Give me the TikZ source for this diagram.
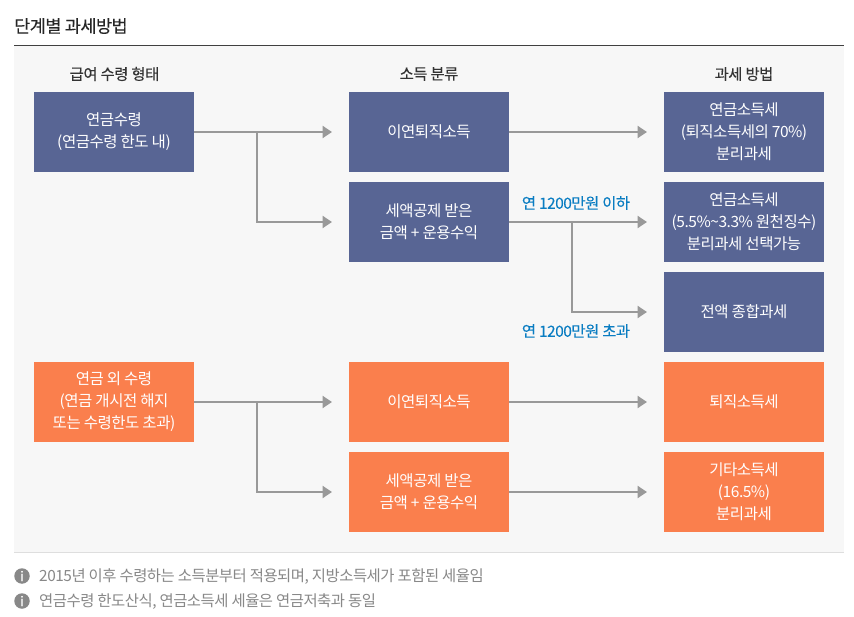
\documentclass[tikz,border=0pt]{standalone}
\usepackage{fontspec}
\usetikzlibrary{arrows.meta}
\setmainfont[LetterSpace=-3]{Noto Sans CJK KR}
\newfontfamily\krmed[LetterSpace=-3,FakeBold=0.15]{Noto Sans CJK KR}
\newfontfamily\krbold[FakeBold=1.2]{Noto Sans CJK KR}
\definecolor{bluebox}{HTML}{586594}
\definecolor{orangebox}{HTML}{FA7F4D}
\definecolor{arrowgray}{HTML}{999999}
\definecolor{labelblue}{HTML}{0A7DC2}
\definecolor{notegray}{HTML}{888888}
\tikzset{
  tbox/.style={minimum width=160pt,minimum height=80pt,inner sep=0pt,text=white,align=center,
    font=\fontsize{15.5}{22}\selectfont},
  bluebx/.style={tbox,fill=bluebox},
  orangebx/.style={tbox,fill=orangebox},
  conn/.style={draw=arrowgray,line width=2.4pt,-{Triangle[length=9.5pt,width=12pt]}},
  heading/.style={text=black!80,inner sep=0pt,font=\krmed\fontsize{15.4}{18}\selectfont},
  blabel/.style={text=labelblue,inner sep=0pt,font=\krmed\fontsize{15.4}{18}\selectfont},
  note/.style={text=notegray,anchor=west,inner sep=0pt,font=\fontsize{15.4}{18}\selectfont},
  infoicon/.style={circle,fill=notegray,text=white,minimum size=15.5pt,inner sep=0pt,font=\krbold\fontsize{13}{13}\selectfont}
}
\begin{document}
\begin{tikzpicture}[x=1pt,y=-1pt]
\useasboundingbox (0,0) rectangle (854,617);
\fill[white] (0,0) rectangle (854,617);
\fill[black!3] (14,46) rectangle (844,552);
\draw[black!75,line width=1pt] (14,45.5) -- (844,45.5);
\draw[black!13,line width=1pt] (14,552.5) -- (844,552.5);
\node[anchor=west,inner sep=0pt,text=black!85,font=\krmed\fontsize{17.5}{20}\selectfont] (title) at (14,26) {단계별 과세방법};
\node[heading] (h1) at (114.5,74) {급여 수령 형태};
\node[heading] (h2) at (429,74) {소득 분류};
\node[heading] (h3) at (744,74) {과세 방법};
\node[bluebx] (a1) at (114,132) {연금수령\\(연금수령 한도 내)};
\node[bluebx] (b1) at (429,132) {이연퇴직소득};
\node[bluebx] (b2) at (429,222) {세액공제 받은\\금액 + 운용수익};
\node[bluebx] (c1) at (744,132) {연금소득세\\(퇴직소득세의 70\%)\\분리과세};
\node[bluebx] (c2) at (744,222) {연금소득세\\(5.5\%\textasciitilde3.3\% 원천징수)\\분리과세 선택가능};
\node[bluebx] (c3) at (744,312) {전액 종합과세};
\node[orangebx] (a2) at (114,402) {연금 외 수령\\(연금 개시전 해지\\또는 수령한도 초과)};
\node[orangebx] (b3) at (429,402) {이연퇴직소득};
\node[orangebx] (b4) at (429,492) {세액공제 받은\\금액 + 운용수익};
\node[orangebx] (c4) at (744,402) {퇴직소득세};
\node[orangebx] (c5) at (744,492) {기타소득세\\(16.5\%)\\분리과세};
\coordinate (t1) at (332,132);
\coordinate (t2) at (332,222);
\coordinate (t3) at (647,132);
\coordinate (t4) at (647,222);
\coordinate (t5) at (647,312);
\coordinate (t6) at (332,402);
\coordinate (t7) at (332,492);
\coordinate (t8) at (647,402);
\coordinate (t9) at (647,492);
\coordinate (j1) at (257,132);
\coordinate (j2) at (572,222);
\coordinate (j3) at (257,402);
\draw[conn] (a1.east) -- (t1);
\draw[conn] (j1) |- (t2);
\draw[conn] (b1.east) -- (t3);
\draw[conn] (b2.east) -- (t4);
\draw[conn] (j2) |- (t5);
\draw[conn] (a2.east) -- (t6);
\draw[conn] (j3) |- (t7);
\draw[conn] (b3.east) -- (t8);
\draw[conn] (b4.east) -- (t9);
\node[blabel] (l1) at (576,203) {연 1200만원 이하};
\node[blabel] (l2) at (576,331) {연 1200만원 초과};
\node[infoicon] (i1) at (22,576) {i};
\node[infoicon] (i2) at (22,601) {i};
\node[note] (n1) at (39,576.5) {2015년 이후 수령하는 소득분부터 적용되며, 지방소득세가 포함된 세율임};
\node[note] (n2) at (39,601.5) {연금수령 한도산식, 연금소득세 세율은 연금저축과 동일};
\end{tikzpicture}
\end{document}
